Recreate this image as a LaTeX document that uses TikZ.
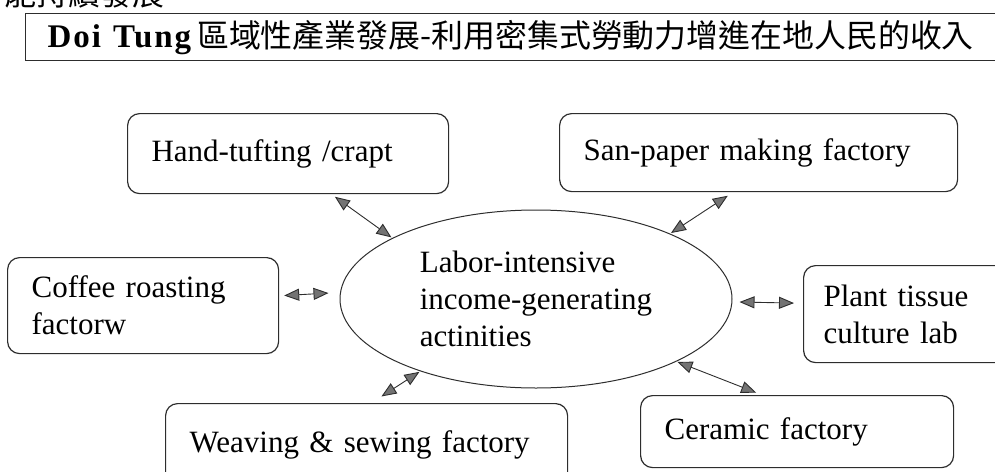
\documentclass[tikz,border=0pt]{standalone}
\usepackage{fontspec}
\setmainfont{Liberation Serif}
\newfontfamily\cjk{Noto Sans CJK TC}
\newfontfamily\titlelatin{Liberation Serif}[LetterSpace=6]
\usetikzlibrary{arrows.meta,shapes.geometric}

\definecolor{trait}{RGB}{45, 45, 45}
\definecolor{pointe}{RGB}{115, 115, 115}

\begin{document}
\begin{tikzpicture}[x=1pt, y=-1pt, line width=1.2pt, draw=trait,
  every node/.style={font=\fontsize{31}{37}\selectfont},
  boite/.style={draw, rounded corners=12pt, anchor=north west, align=left,
    inner xsep=24pt, inner ysep=0pt},
  fleche/.style={{Triangle[length=15pt,width=12pt,fill=pointe]}-{Triangle[length=15pt,width=12pt,fill=pointe]},
    line width=0.9pt, shorten <=1pt, shorten >=1pt}]
  \useasboundingbox (0, 0) rectangle (995, 471);
  \clip (0, 0) rectangle (995, 471);
  % en-tete
  \node[anchor=south east, inner sep=0pt, font=\cjk\fontsize{32}{32}\selectfont] (frag) at (165, 9) {能持續發展};
  \node[draw, anchor=north west, minimum height=47pt, text width=950pt, align=left,
    inner xsep=22pt, inner ysep=0pt] (titre) at (25, 13)
    {{\titlelatin\bfseries\fontsize{33}{33}\selectfont Doi\hspace{12pt}Tung}\hspace{6pt}{\cjk\fontsize{31.9}{31.9}\selectfont 區域性產業發展-利用密集式勞動力增進在地人民的收入}};
  % activites
  \node[draw, ellipse, line width=1pt, minimum width=392pt, minimum height=178pt, align=left] (centre) at (536, 299)
    {Labor-intensive\\income-generating\\actinities};
  \node[boite, text width=273pt, minimum height=80pt] (main) at (127, 113) {Hand-tufting /crapt};
  \node[boite, text width=350pt, minimum height=78pt] (papier) at (559, 113) {San-paper making factory};
  \node[boite, text width=223pt, minimum height=96pt] (cafe) at (7, 257) {Coffee roasting\\factorw};
  \node[boite, text width=180pt, minimum height=97pt, inner xsep=20pt] (plante) at (803, 265) {Plant tissue\\culture lab};
  \node[boite, text width=354pt, minimum height=82pt] (tissage) at (165, 403) {Weaving \& sewing factory};
  \node[boite, text width=265pt, minimum height=72pt] (ceram) at (640, 395) {Ceramic factory};
  % liaisons
  \draw[fleche] ([shift={(46pt, -2pt)}]main.south) -- (centre.157);
  \draw[fleche] ([shift={(-30pt, -3pt)}]papier.south) -- (centre.26);
  \draw[fleche] ([shift={(4pt, 10pt)}]cafe.east) -- ([shift={(-10pt, 6pt)}]centre.west);
  \draw[fleche] ([shift={(6pt, -3pt)}]centre.east) -- ([shift={(-8pt, 11pt)}]plante.west);
  \draw[fleche] ([shift={(14pt, 6pt)}]tissage.north) -- (centre.212);
  \draw[fleche] ([shift={(-40pt, 2pt)}]ceram.north) -- (centre.336);
\end{tikzpicture}
\end{document}
